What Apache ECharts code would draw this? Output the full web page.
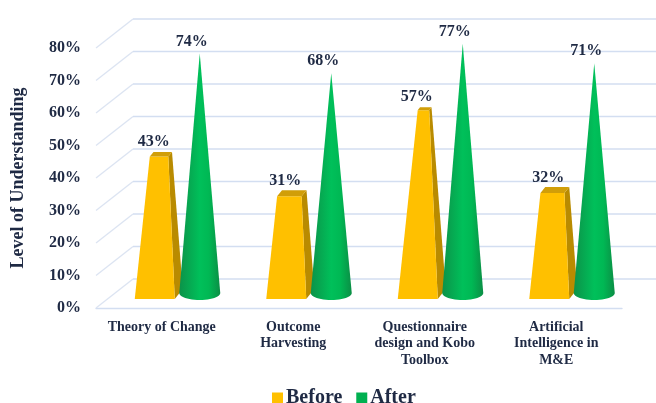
<!DOCTYPE html>
<html>
<head>
<meta charset="utf-8">
<style>html,body{margin:0;padding:0;background:#fff}#c{width:656px;height:403px}</style>
<script src="https://cdn.jsdelivr.net/npm/echarts@6/dist/echarts.min.js"></script>
</head>
<body>
<div id="c"></div>
<script>
const categories = ['Theory of Change', 'Outcome\nHarvesting', 'Questionnaire\ndesign and Kobo\nToolbox', 'Artificial\nIntelligence in\nM&E'];
const before = [43, 31, 57, 32];
const after = [74, 68, 77, 71];
const ticks = [0, 10, 20, 30, 40, 50, 60, 70, 80];
const axisTitle = 'Level of Understanding';

const FONT = '"Liberation Serif", "Times New Roman", serif';
const INK = '#1F2A44';
const PEAK = 80;          // value at which the pyramids would reach their apex

function wallItem(params, api) {
  const v = api.value(1);
  const band = api.size([1, 0])[0];
  const p = api.coord([0, v]);
  const left = p[0] - band / 2;
  const right = api.coord([categories.length - 1, v])[0] + band / 2;
  const dx = 37, dy = 29;
  const children = [{
    type: 'polyline',
    shape: { points: [[left, p[1]], [left + dx, p[1] - dy]] },
    style: { stroke: '#DCE4F2', lineWidth: 1.3, fill: null }
  }, {
    type: 'line',
    shape: { x1: left + dx, y1: p[1] - dy, x2: right + dx, y2: p[1] - dy },
    style: { stroke: '#D3DEF1', lineWidth: 1.4 }
  }];
  return { type: 'group', children };
}

function pyramidItem(params, api) {
  const i = api.value(0), v = api.value(1);
  const zero = api.coord([i, 0]);
  const top = api.coord([i, v]);
  const cx = zero[0] - 3, cy = zero[1] - 14;
  const ty = top[1] - 14;
  const f = 1 - v / PEAK;
  const lean = 4 * (v / PEAK);
  const base = { fl: [-24, 5], fr: [16, 5], br: [24, -5], bl: [-16, -5] };
  const b = k => [cx + base[k][0], cy + base[k][1]];
  const t = k => [cx + lean + base[k][0] * f, ty + base[k][1] * f];
  return {
    type: 'group',
    children: [
      { type: 'polygon', shape: { points: [b('fr'), b('br'), t('br'), t('fr')] }, style: { fill: '#B98B00' } },
      { type: 'polygon', shape: { points: [b('fl'), b('fr'), t('fr'), t('fl')] }, style: { fill: '#FFC000' } },
      { type: 'polygon', shape: { points: [t('fl'), t('fr'), t('br'), t('bl')] }, style: { fill: '#D19E08' } },
      { type: 'text', style: { text: v + '%', x: zero[0] - 8, y: ty - 12, align: 'center', verticalAlign: 'middle',
        fontFamily: FONT, fontWeight: 'bold', fontSize: 16, fill: INK } }
    ]
  };
}

function coneItem(params, api) {
  const i = api.value(0), v = api.value(1);
  const zero = api.coord([i, 0]);
  const top = api.coord([i, v]);
  const cx = zero[0] + 38, cy = zero[1] - 15;
  const ty = top[1] - 14;
  const rx = 20.5, ry = 7;
  const pts = [[cx, ty]];
  for (let a = 0; a <= 24; a++) {
    const th = Math.PI * a / 24;
    pts.push([cx + rx * Math.cos(th), cy + ry * Math.sin(th)]);
  }
  return {
    type: 'group',
    children: [
      { type: 'polygon', shape: { points: pts }, style: {
        fill: { type: 'linear', x: 0, y: 0, x2: 1, y2: 0, colorStops: [
          { offset: 0, color: '#0C9249' }, { offset: 0.5, color: '#00C05A' }, { offset: 0.72, color: '#00B854' }, { offset: 1, color: '#0B8E45' }
        ] } } },
      { type: 'text', style: { text: v + '%', x: zero[0] + 30, y: ty - 12, align: 'center', verticalAlign: 'middle',
        fontFamily: FONT, fontWeight: 'bold', fontSize: 16, fill: INK } }
    ]
  };
}

const chart = echarts.init(document.getElementById('c'), null, { renderer: 'canvas' });
chart.setOption({
  backgroundColor: '#fff',
  animation: false,
  grid: { left: 96, right: 34, top: 48, bottom: 95, containLabel: false },
  legend: {
    data: ['Before', 'After'], top: 383, left: 267, itemWidth: 11, itemHeight: 11, itemGap: 14,
    icon: 'rect', textStyle: { fontFamily: FONT, fontWeight: 'bold', fontSize: 20, color: INK, padding: [0, 0, 0, -2] }
  },
  xAxis: {
    type: 'category', data: categories,
    axisLine: { lineStyle: { color: '#D3DEF1', width: 1.4 } },
    axisTick: { show: false },
    axisLabel: { interval: 0, margin: 11, fontFamily: FONT, fontWeight: 'bold', fontSize: 14, lineHeight: 16.5, color: INK }
  },
  yAxis: {
    type: 'value', min: 0, max: 80, interval: 10,
    name: axisTitle, nameLocation: 'middle', nameRotate: 90, nameGap: 69,
    nameTextStyle: { fontFamily: FONT, fontWeight: 'bold', fontSize: 18, color: INK },
    axisLine: { show: false }, axisTick: { show: false }, splitLine: { show: false },
    axisLabel: { formatter: '{value}%', margin: 15, fontFamily: FONT, fontWeight: 'bold', fontSize: 16, color: INK }
  },
  series: [
    { type: 'custom', name: 'wall', silent: true, z: 1, clip: false, renderItem: wallItem,
      data: ticks.map(t => [0, t]) },
    { type: 'custom', name: 'Before', z: 2, clip: false, itemStyle: { color: '#FFC000' }, renderItem: pyramidItem,
      data: before.map((v, i) => [i, v]) },
    { type: 'custom', name: 'After', z: 3, clip: false, itemStyle: { color: '#00B050' }, renderItem: coneItem,
      data: after.map((v, i) => [i, v]) }
  ]
});
</script>
</body>
</html>
